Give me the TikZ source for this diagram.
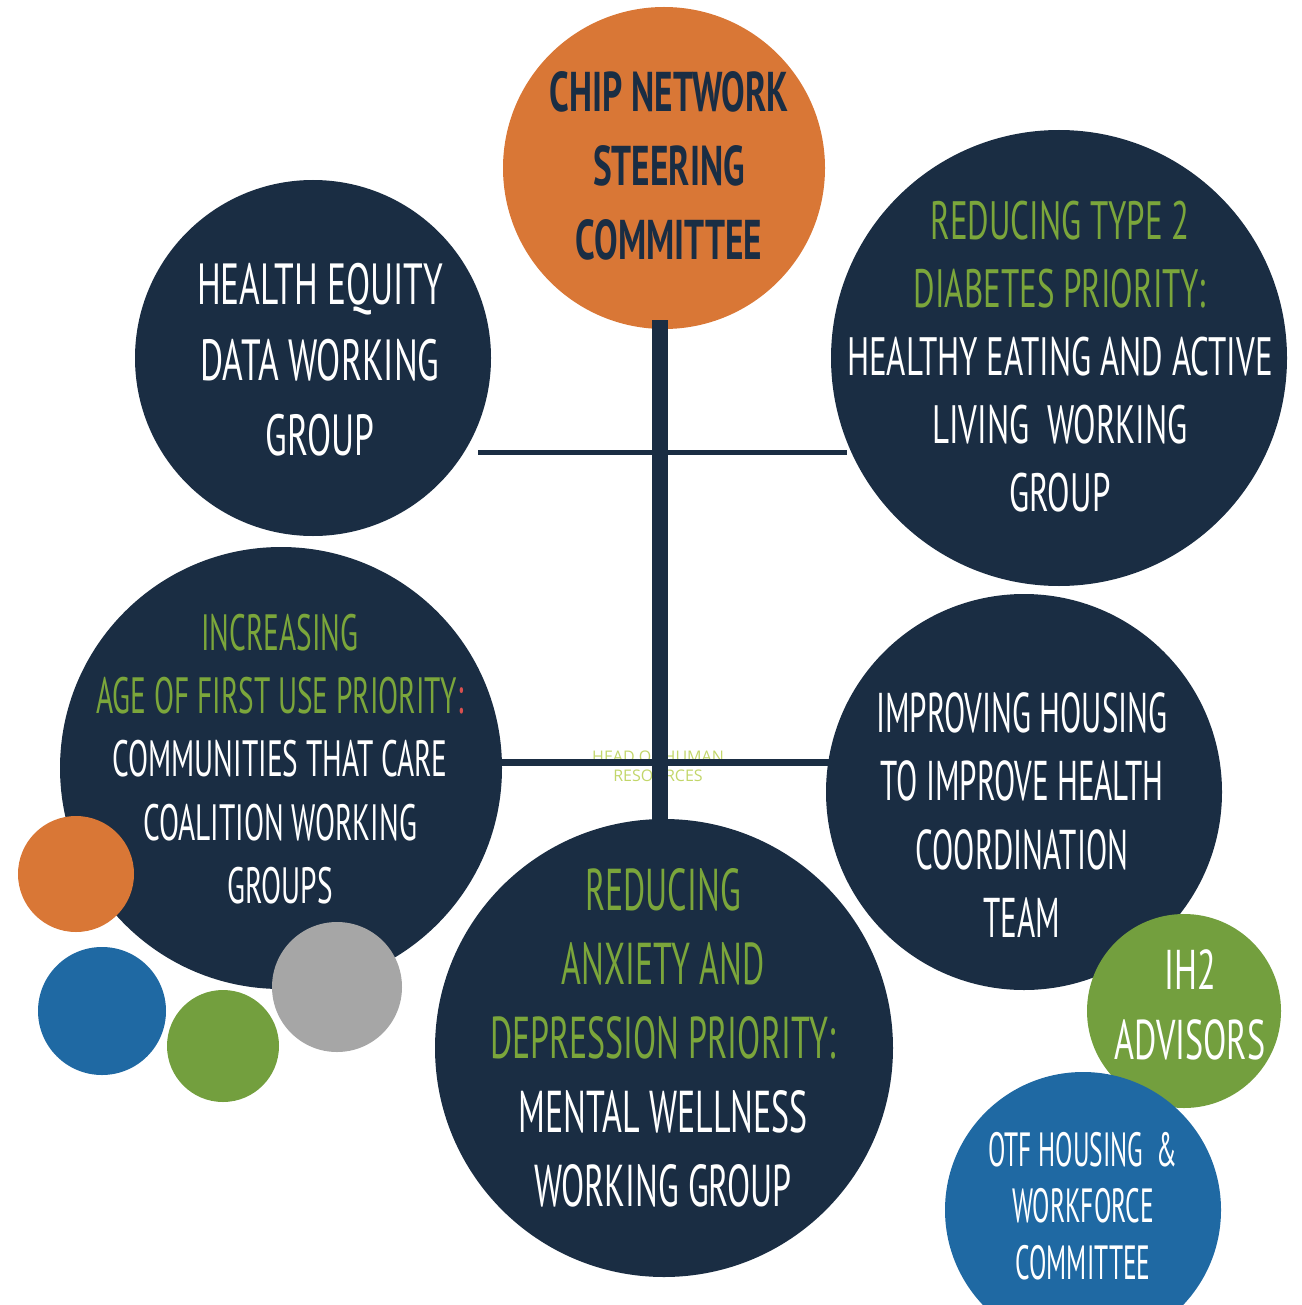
\documentclass[tikz,border=0pt]{standalone}
\usepackage{fontspec}
\newfontfamily\cond[FakeStretch=0.61,BoldFeatures={FakeStretch=0.63}]{PT Sans}
\newfontfamily\condB[FakeStretch=0.575]{PT Sans}
\newfontfamily\condC[FakeStretch=0.555]{PT Sans}
\newfontfamily\condD[FakeStretch=0.53]{PT Sans}
\newfontfamily\smallsans{Open Sans}
\definecolor{navy}{HTML}{1A2D43}
\definecolor{orng}{HTML}{D97736}
\definecolor{grn}{HTML}{739F3E}
\definecolor{grntxt}{HTML}{7BA63B}
\definecolor{blu}{HTML}{1F69A3}
\definecolor{gry}{HTML}{A6A6A6}
\definecolor{redc}{HTML}{D9504F}
\definecolor{lightg}{HTML}{C2D66A}
\begin{document}
\begin{tikzpicture}[x=0.5pt,y=-0.5pt,
  bub/.style={circle,draw=none,inner sep=0pt,minimum size=#1},
  btxt/.style={align=center,text=white,inner sep=0pt},
  trunk/.style={draw=navy,line width=8pt},
  branch/.style={draw=navy,line width=#1}]
\useasboundingbox (0,0) rectangle (1301,1305);
\clip (0,0) rectangle (1301,1305);
% circles
\node[bub=161pt,fill=orng] (chip) at (664,168) {};
\node[bub=178pt,fill=navy] (equity) at (313,358) {};
\node[bub=228pt,fill=navy] (diab) at (1059,358) {};
\node[bub=221pt,fill=navy] (incr) at (281,768) {};
\node[bub=198pt,fill=navy] (housing) at (1024,792) {};
\node[bub=229pt,fill=navy] (anx) at (664,1048) {};
\node[bub=97pt,fill=grn] (ih2) at (1184,1011) {};
\node[bub=138pt,fill=blu] (otf) at (1083,1210) {};
\node[bub=58pt,fill=orng] (dotO) at (76,874) {};
\node[bub=64pt,fill=blu] (dotB) at (102,1011) {};
\node[bub=56pt,fill=grn] (dotG) at (223,1046) {};
\node[bub=65pt,fill=gry] (dotY) at (337,987) {};
% faint label beneath the lines
\node[align=center,text=lightg,inner sep=0pt,font={\smallsans\fontsize{8}{9.5}\selectfont}] (hr) at (658,766) {HEAD OF HUMAN\\RESOURCES};
% connectors
\coordinate (vtop) at (660,320);
\coordinate (vbot) at (660,820);
\coordinate (h1l) at (478,452);
\coordinate (h1r) at (847,452);
\coordinate (h2l) at (500,762);
\coordinate (h2r) at (830,762);
\draw[trunk] (vtop) -- (vbot);
\draw[branch=2.5pt] (h1l) -- (h1r);
\draw[branch=3.5pt] (h2l) -- (h2r);
% texts
\node[btxt,text=navy,font={\cond\bfseries\fontsize{28}{37}\selectfont}] (tchip) at (669,166) {CHIP NETWORK\\STEERING\\COMMITTEE};
\node[btxt,font={\cond\fontsize{29}{37.75}\selectfont}] (tequity) at (320,360) {HEALTH EQUITY\\DATA WORKING\\GROUP};
\node[btxt,font={\cond\fontsize{27}{34}\selectfont}] (tdiab) at (1060,357) {\textcolor{grntxt}{REDUCING TYPE 2}\\\textcolor{grntxt}{DIABETES PRIORITY:}\\HEALTHY EATING AND ACTIVE\\LIVING\ \ WORKING\\GROUP};
\node[btxt,font={\condB\fontsize{25.5}{31.6}\selectfont}] (tincr) at (280,759) {\textcolor{grntxt}{INCREASING}\\\textcolor{grntxt}{AGE OF FIRST USE PRIORITY}\textcolor{redc}{:}\\COMMUNITIES THAT CARE\\COALITION WORKING\\GROUPS};
\node[btxt,font={\condC\fontsize{28}{34.2}\selectfont}] (thousing) at (1022,815) {IMPROVING HOUSING\\TO IMPROVE HEALTH\\COORDINATION\\TEAM};
\node[btxt,font={\condB\fontsize{29.5}{37}\selectfont}] (tanx) at (663,1038) {\textcolor{grntxt}{REDUCING}\\\textcolor{grntxt}{ANXIETY AND}\\\textcolor{grntxt}{DEPRESSION PRIORITY:}\\MENTAL WELLNESS\\WORKING GROUP};
\node[btxt,font={\cond\fontsize{28}{35}\selectfont}] (tih2) at (1190,1005) {IH2\\ADVISORS};
\node[btxt,font={\condD\fontsize{24}{28.25}\selectfont}] (totf) at (1083,1206) {OTF HOUSING\ \ \&\\WORKFORCE\\COMMITTEE};
\end{tikzpicture}
\end{document}
